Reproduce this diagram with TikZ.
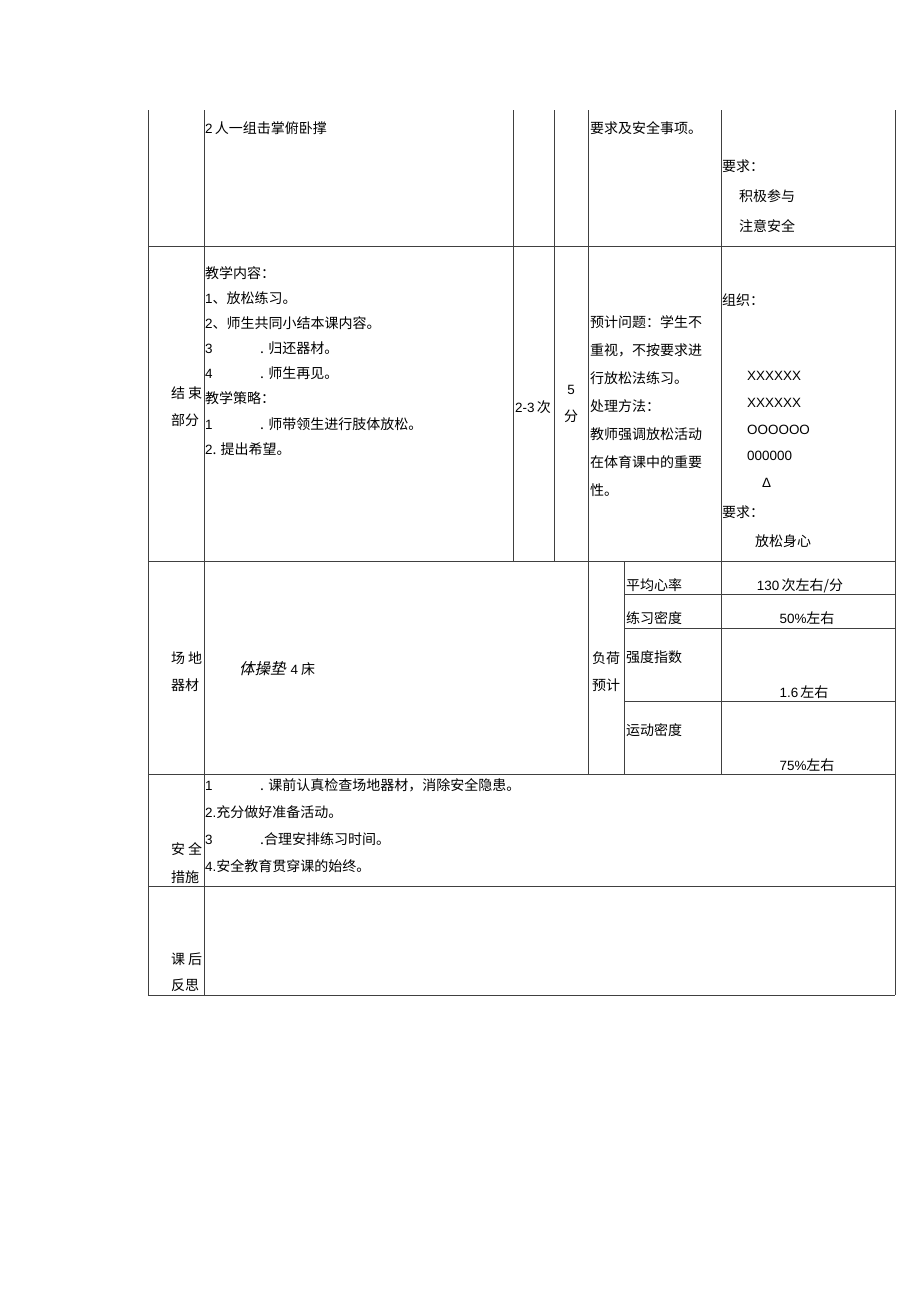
\documentclass[tikz,border=0pt]{standalone}
\usepackage{fontspec}
\setmainfont{Noto Sans CJK SC}
\newfontfamily\numfont[Scale=0.96]{Liberation Sans}
\newfontfamily\slantfont[FakeSlant=0.22]{Noto Sans CJK SC}
\usetikzlibrary{positioning}
\tikzset{
    rule/.style={
           draw=black!75,
           line width=0.8pt,
           },
    cell/.style={
           anchor=base west,
           inner sep=0pt,
           font=\fontsize{14}{14}\selectfont,
           },
    midcell/.style={
           cell,
           anchor=base,
           },
}

\begin{document}
\begin{tikzpicture}[x=1pt,y=-1pt]
 \useasboundingbox (0,0) rectangle (920,1301);

 % grid of the table
 \draw[rule] (148,110) -- (148,995)
  (204,110) -- (204,995)
  (513,110) -- (513,561)
  (554,110) -- (554,561)
  (588,110) -- (588,774)
  (721,110) -- (721,774)
  (624,561) -- (624,774)
  (895,110) -- (895,995);
 \foreach \y in {246,561,774,886,995}
  \draw[rule] (148,\y) -- (895,\y);
 \foreach \y in {594,628,701}
  \draw[rule] (624,\y) -- (895,\y);

 % first row (continued from the page before)
 \node[cell] (Pushup) at (205,133) {\numfont 2\,\rmfamily 人一组击掌俯卧撑};
 \node[cell] (Safety Note) at (590,133) {要求及安全事项。};
 \node[cell] (Demand A) at (722,171) {要求：};
 \node[cell] (Demand A1) at (739,201) {积极参与};
 \node[cell] (Demand A2) at (739,231) {注意安全};

 % STATE ending part
 \node[cell] (End Label) at (171,398) {结\hspace{3pt}束};
 \node[cell] (End Label2) at (171,425) {部分};
 \node[cell] (Content Head) at (205,278) {教学内容：};
 \node[cell] (Content 1) at (205,303) {\numfont 1\rmfamily 、放松练习。};
 \node[cell] (Content 2) at (205,328) {\numfont 2\rmfamily 、师生共同小结本课内容。};
 \node[cell] (Content 3) at (205,353) {\makebox[55pt][l]{\numfont 3}. 归还器材。};
 \node[cell] (Content 4) at (205,378) {\makebox[55pt][l]{\numfont 4}. 师生再见。};
 \node[cell] (Strategy Head) at (205,403) {教学策略：};
 \node[cell] (Strategy 1) at (205,429) {\makebox[55pt][l]{\numfont 1}. 师带领生进行肢体放松。};
 \node[cell] (Strategy 2) at (205,454) {\numfont 2\rmfamily . 提出希望。};
 \node[midcell] (Times) at (533,412) {\numfont 2-3\,\rmfamily 次};
 \node[midcell] (Minutes) at (571,394) {\numfont 5};
 \node[midcell] (Minutes Unit) at (571,421) {分};

 \foreach \t [count=\i] in {预计问题：学生不,重视，不按要求进,行放松法练习。,处理方法：,教师强调放松活动,在体育课中的重要,性。}
  \node[cell] (Problem \i) at (590,{327+28*(\i-1)}) {\t};

 \node[cell] (Org Head) at (722,305) {组织：};
 \node[cell,font=\fontsize{14}{14}\numfont] (Row X1) at (747,380) {XXXXXX};
 \node[cell,font=\fontsize{14}{14}\numfont] (Row X2) at (747,407) {XXXXXX};
 \node[cell,font=\fontsize{14}{14}\numfont] (Row O1) at (747,434) {OOOOOO};
 \node[cell,font=\fontsize{14}{14}\numfont] (Row O2) at (747,460) {000000};
 \node[cell,font=\fontsize{14}{14}\numfont] (Teacher) at (762,487) {Δ};
 \node[cell] (Demand B) at (722,517) {要求：};
 \node[cell] (Demand B1) at (755,546) {放松身心};

 % STATE ground and equipment, load estimate
 \node[cell] (Ground Label) at (171,663) {场\hspace{3pt}地};
 \node[cell] (Ground Label2) at (171,690) {器材};
 \node[cell] (Mats) at (239,674) {{\slantfont\fontsize{15.5}{15.5}\selectfont 体操垫}\hspace{5pt}\numfont 4\hspace{3pt}\rmfamily 床};
 \node[cell] (Load Label) at (592,663) {负荷};
 \node[cell] (Load Label2) at (592,690) {预计};
 \node[cell] (Heart Rate) at (626,590) {平均心率};
 \node[midcell] (Heart Value) at (800,590) {\numfont 130\,\rmfamily 次左右/分};
 \node[cell] (Practice) at (626,623) {练习密度};
 \node[midcell] (Practice Value) at (807,623) {\numfont 50\%\rmfamily 左右};
 \node[cell] (Intensity) at (626,662) {强度指数};
 \node[midcell] (Intensity Value) at (804,697) {\numfont 1.6\,\rmfamily 左右};
 \node[cell] (Motion) at (626,735) {运动密度};
 \node[midcell] (Motion Value) at (807,770) {\numfont 75\%\rmfamily 左右};

 % STATE safety measures
 \node[cell] (Safe Label) at (171,854) {安\hspace{3pt}全};
 \node[cell] (Safe Label2) at (171,882) {措施};
 \node[cell] (Safe 1) at (205,790) {\makebox[55pt][l]{\numfont 1}. 课前认真检查场地器材，消除安全隐患。};
 \node[cell] (Safe 2) at (205,817) {\numfont 2.\rmfamily 充分做好准备活动。};
 \node[cell] (Safe 3) at (205,844) {\makebox[55pt][l]{\numfont 3}.合理安排练习时间。};
 \node[cell] (Safe 4) at (205,871) {\numfont 4.\rmfamily 安全教育贯穿课的始终。};

 % STATE reflection
 \node[cell] (Reflect Label) at (171,964) {课\hspace{3pt}后};
 \node[cell] (Reflect Label2) at (171,990) {反思};

\end{tikzpicture}
\end{document}
